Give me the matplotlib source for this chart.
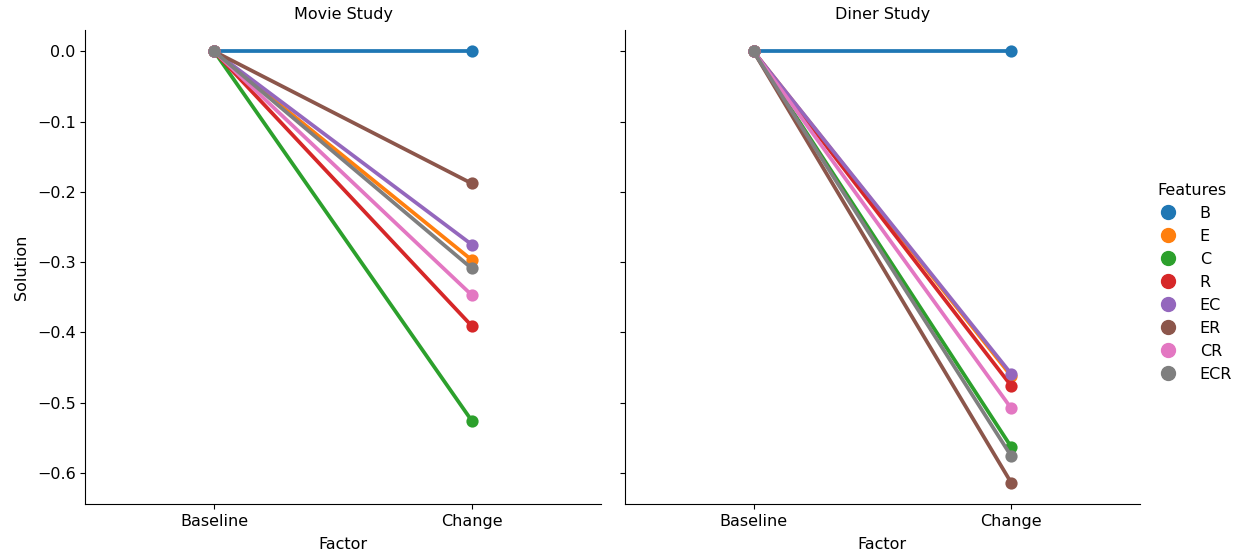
import numpy as np
import pandas as pd
import matplotlib
matplotlib.use("Agg")
import matplotlib.pyplot as plt
from matplotlib.lines import Line2D
import seaborn as sns

# Data
features = ["B", "E", "C", "R", "EC", "ER", "CR", "ECR"]
factors = ["Baseline", "Change"]
studies = ["Movie Study", "Diner Study"]

movie_change = [0.0, -0.297, -0.526, -0.391, -0.275, -0.188, -0.347, -0.309]
diner_change = [0.0, -0.462, -0.563, -0.476, -0.459, -0.614, -0.508, -0.576]

rows = []
for study, change in zip(studies, [movie_change, diner_change]):
    for feat, val in zip(features, change):
        rows.append({"Study": study, "Features": feat, "Factor": "Baseline", "Solution": 0.0})
        rows.append({"Study": study, "Features": feat, "Factor": "Change", "Solution": val})
df = pd.DataFrame(rows)

plt.rcParams.update({"font.size": 11.5, "axes.titlesize": 11.5, "axes.labelsize": 11.5,
                     "xtick.labelsize": 11.5, "ytick.labelsize": 11.5,
                     "axes.titlepad": 7.5, "axes.labelpad": 5.5})

g = sns.catplot(data=df, x="Factor", y="Solution", hue="Features", col="Study",
                kind="point", order=factors, hue_order=features, col_order=studies,
                height=5, aspect=1.0, legend=False)
g.set_titles("{col_name}")

fig = g.figure
fig.set_size_inches(12.39, 5.54)
fig.subplots_adjust(left=0.069, right=0.920, top=0.946, bottom=0.09, wspace=0.047)

colors = sns.color_palette("tab10", len(features))
handles = [Line2D([], [], linestyle="none", marker="o", markersize=10, color=c) for c in colors]
fig.legend(handles, features, title="Features", loc="center right",
           bbox_to_anchor=(1.006, 0.49), frameon=False, fontsize=11.5, title_fontsize=11.5,
           handletextpad=1.0, labelspacing=0.5)

plt.savefig("out.png", dpi=100)
